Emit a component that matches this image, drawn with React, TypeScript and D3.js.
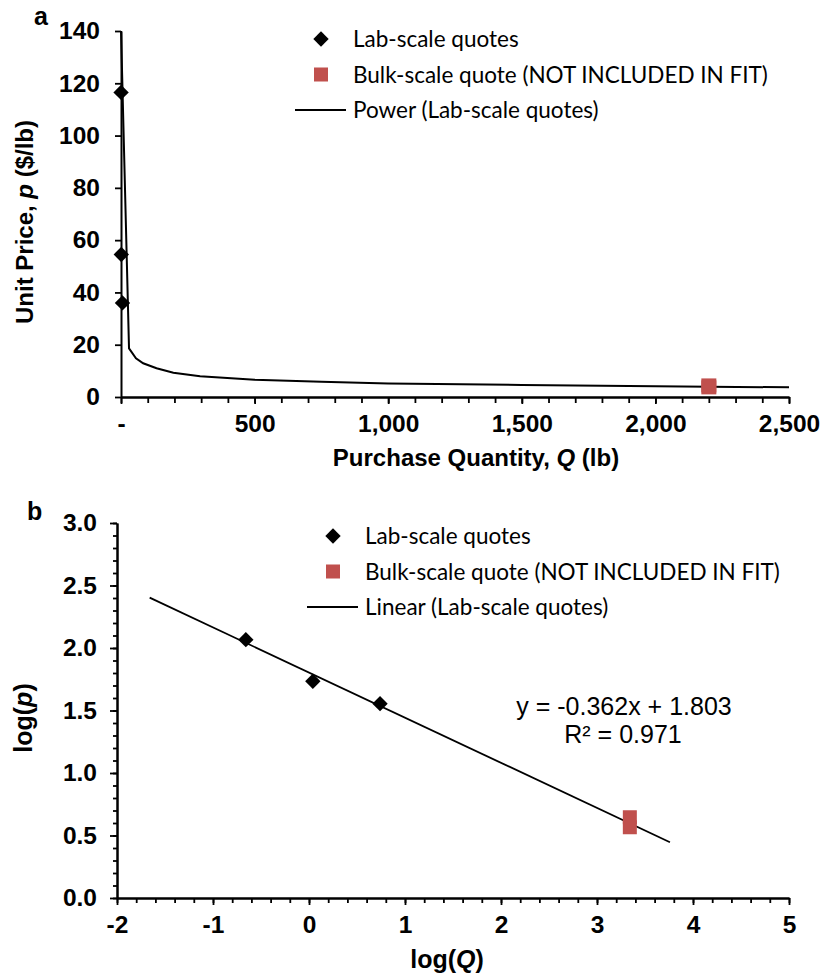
import * as d3 from "d3";
import { useRef, useEffect } from "react";

// panel a: raw quotes
const labQty = [0.22, 1.1, 5.5];
const labPrice = [116.5, 54.5, 36];
const bulkQty = [2200, 2200];
const bulkPrice = [4.43, 3.68];
// power trendline as drawn
const powerQty = [0.11, 30, 56, 83, 133, 196, 296, 500, 750, 1000, 1500, 2000, 2500];
const powerPrice = [140, 18.6, 14.8, 12.9, 11.0, 9.3, 7.9, 6.6, 5.8, 5.2, 4.6, 4.1, 3.7];

// panel b: log-log
const labLogQ = [-0.658, 0.04, 0.74];
const labLogP = [2.067, 1.734, 1.555];
const bulkLogQ = [3.342, 3.342];
const bulkLogP = [0.646, 0.566];
const linearLogQ = [-1.66, 3.76];
const linearLogP = [2.403, 0.446];

const xTicksA = [0, 500, 1000, 1500, 2000, 2500];
const yTicksA = [0, 20, 40, 60, 80, 100, 120, 140];
const xTicksB = [-2, -1, 0, 1, 2, 3, 4, 5];
const yTicksB = [0, 0.5, 1.0, 1.5, 2.0, 2.5, 3.0];

const legendLabelsA = ["Lab-scale quotes", "Bulk-scale quote (NOT INCLUDED IN FIT)", "Power (Lab-scale quotes)"];
const legendLabelsB = ["Lab-scale quotes", "Bulk-scale quote (NOT INCLUDED IN FIT)", "Linear (Lab-scale quotes)"];
const equationText = "y = -0.362x + 1.803";
const r2Text = "R² = 0.971";

const RED = "#C0504D";
const AXIS_FONT = "'Liberation Sans', Arial, sans-serif";
const LEGEND_FONT = "Lato, 'Open Sans', sans-serif";

const xA = d3.scaleLinear().domain([0, 2500]).range([121, 789]);
const yA = d3.scaleLinear().domain([0, 140]).range([397, 31]);
const xB = d3.scaleLinear().domain([-2, 5]).range([117, 789]);
const yB = d3.scaleLinear().domain([0, 3]).range([898, 523]);

const diamond = d3.symbol(d3.symbolSquare, 118)();

function styleAxis(g: d3.Selection<SVGGElement, unknown, null, undefined>) {
  g.select(".domain").attr("stroke", "#000").attr("stroke-width", 2);
  g.selectAll(".tick line").attr("stroke", "#000").attr("stroke-width", 1.8);
  g.selectAll(".tick text")
    .attr("fill", "#000")
    .style("font-family", AXIS_FONT)
    .style("font-weight", "bold")
    .style("font-size", "24.5px");
}

function Legend({ x, y, labels }: { x: number; y: number; labels: string[] }) {
  const rows = [0, 35.5, 71];
  return (
    <g fontFamily={LEGEND_FONT} fontSize={22.5} fill="#000">
      <path d={diamond} transform={`translate(${x},${y + rows[0]}) rotate(45)`} fill="#000" />
      <text x={x + 32} y={y + rows[0] + 8}>{labels[0]}</text>
      <rect x={x - 7} y={y + rows[1] - 7} width={14} height={14} fill={RED} />
      <text x={x + 32} y={y + rows[1] + 8}>{labels[1]}</text>
      <line x1={x - 26} x2={x + 25} y1={y + rows[2]} y2={y + rows[2]} stroke="#000" strokeWidth={1.8} />
      <text x={x + 32} y={y + rows[2] + 8}>{labels[2]}</text>
    </g>
  );
}

export default function App() {
  const gxA = useRef<SVGGElement>(null);
  const gxAm = useRef<SVGGElement>(null);
  const gyA = useRef<SVGGElement>(null);
  const gxB = useRef<SVGGElement>(null);
  const gxBm = useRef<SVGGElement>(null);
  const gyB = useRef<SVGGElement>(null);
  const gyBm = useRef<SVGGElement>(null);

  useEffect(() => {
    if (gxAm.current) {
      const g = d3.select(gxAm.current);
      g.call(d3.axisBottom(xA).tickValues(d3.range(0, 2501, 100)).tickSize(6).tickSizeOuter(0).tickFormat(() => ""));
      styleAxis(g);
    }
    if (gxA.current) {
      const g = d3.select(gxA.current);
      g.call(
        d3
          .axisBottom(xA)
          .tickValues(xTicksA)
          .tickSize(7)
          .tickPadding(11)
          .tickSizeOuter(0)
          .tickFormat((d) => (+d === 0 ? "-" : d3.format(",")(+d)))
      );
      styleAxis(g);
    }
    if (gyA.current) {
      const g = d3.select(gyA.current);
      g.call(d3.axisLeft(yA).tickValues(yTicksA).tickSize(6).tickPadding(15).tickSizeOuter(0).tickFormat((d) => `${d}`));
      styleAxis(g);
    }
    if (gxBm.current) {
      const g = d3.select(gxBm.current);
      g.call(d3.axisBottom(xB).tickValues(d3.range(-20, 51, 2).map((v) => v / 10)).tickSize(5).tickSizeOuter(0).tickFormat(() => ""));
      styleAxis(g);
    }
    if (gxB.current) {
      const g = d3.select(gxB.current);
      g.call(d3.axisBottom(xB).tickValues(xTicksB).tickSize(7).tickPadding(11).tickSizeOuter(0).tickFormat((d) => `${d}`));
      styleAxis(g);
    }
    if (gyBm.current) {
      const g = d3.select(gyBm.current);
      g.call(d3.axisLeft(yB).tickValues(d3.range(0, 31).map((v) => v / 10)).tickSize(4).tickSizeOuter(0).tickFormat(() => ""));
      styleAxis(g);
    }
    if (gyB.current) {
      const g = d3.select(gyB.current);
      g.call(d3.axisLeft(yB).tickValues(yTicksB).tickSize(7).tickPadding(13).tickSizeOuter(0).tickFormat(d3.format(".1f")));
      styleAxis(g);
    }
  }, []);

  const powerLine = d3
    .line<number>()
    .x((_, i) => xA(powerQty[i]))
    .y((d) => yA(d))(powerPrice);

  const linearLine = d3
    .line<number>()
    .x((_, i) => xB(linearLogQ[i]))
    .y((d) => yB(d))(linearLogP);

  const titleStyle = { fontFamily: AXIS_FONT, fontWeight: "bold" as const, fontSize: 24 };

  return (
    <svg width={825} height={978} style={{ position: "absolute", left: 0, top: 0, background: "#fff" }}>
      {/* panel a */}
      <text x={34} y={25} {...titleStyle} fontSize={25}>a</text>
      <path d={powerLine ?? ""} fill="none" stroke="#000" strokeWidth={2} />
      <g ref={gxAm} transform={`translate(0,${yA(0)})`} />
      <g ref={gxA} transform={`translate(0,${yA(0)})`} />
      <g ref={gyA} transform={`translate(${xA(0)},0)`} />
      {labQty.map((q, i) => (
        <path key={i} d={diamond} transform={`translate(${xA(q)},${yA(labPrice[i])}) rotate(45)`} fill="#000" />
      ))}
      {bulkQty.map((q, i) => (
        <rect key={i} x={xA(q) - 7.5} y={yA(bulkPrice[i]) - 7} width={15} height={14} fill={RED} />
      ))}
      <Legend x={321} y={39} labels={legendLabelsA} />
      <text x={476} y={466} textAnchor="middle" {...titleStyle}>
        Purchase Quantity, <tspan fontStyle="italic">Q</tspan> (lb)
      </text>
      <text transform="translate(33,222) rotate(-90)" textAnchor="middle" {...titleStyle}>
        Unit Price, <tspan fontStyle="italic">p</tspan> ($/lb)
      </text>

      {/* panel b */}
      <text x={27} y={520} {...titleStyle} fontSize={25}>b</text>
      <path d={linearLine ?? ""} fill="none" stroke="#000" strokeWidth={1.8} />
      <g ref={gxBm} transform={`translate(0,${yB(0)})`} />
      <g ref={gyBm} transform={`translate(${xB(-2)},0)`} />
      <g ref={gxB} transform={`translate(0,${yB(0)})`} />
      <g ref={gyB} transform={`translate(${xB(-2)},0)`} />
      {labLogQ.map((q, i) => (
        <path key={i} d={diamond} transform={`translate(${xB(q)},${yB(labLogP[i])}) rotate(45)`} fill="#000" />
      ))}
      {bulkLogQ.map((q, i) => (
        <rect key={i} x={xB(q) - 7} y={yB(bulkLogP[i]) - 7} width={14} height={14} fill={RED} />
      ))}
      <Legend x={333} y={536} labels={legendLabelsB} />
      <text x={624} y={715} textAnchor="middle" fontFamily={AXIS_FONT} fontSize={25}>{equationText}</text>
      <text x={623} y={743} textAnchor="middle" fontFamily={AXIS_FONT} fontSize={25}>{r2Text}</text>
      <text x={447} y={968} textAnchor="middle" {...titleStyle} fontSize={25}>
        log(<tspan fontStyle="italic">Q</tspan>)
      </text>
      <text transform="translate(32,718) rotate(-90)" textAnchor="middle" {...titleStyle} fontSize={25}>
        log(<tspan fontStyle="italic">p</tspan>)
      </text>
    </svg>
  );
}
